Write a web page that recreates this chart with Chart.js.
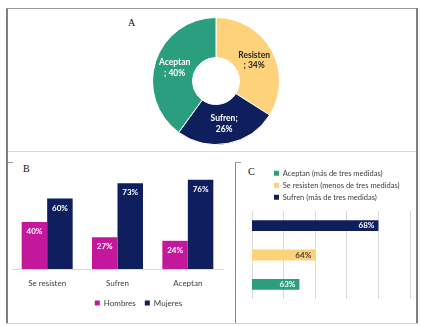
<!DOCTYPE html>
<html><head><meta charset="utf-8">
<script src="https://cdn.jsdelivr.net/npm/chart.js@4.4.1/dist/chart.umd.min.js"></script>
<style>
html,body{margin:0;padding:0;background:#fff;width:421px;height:326px;overflow:hidden;position:relative;font-family:Lato,sans-serif}
.ln{position:absolute}
canvas{position:absolute}
.letter{position:absolute;font-family:"Liberation Serif",serif;font-size:10px;color:#111;line-height:1}
</style></head><body>
<div class="ln" style="left:6px;top:8px;width:2px;height:316px;background:#7f7f7f"></div>
<div class="ln" style="left:6px;top:8px;width:412px;height:1px;background:#999"></div>
<div class="ln" style="left:416px;top:8px;width:2px;height:316px;background:#7f7f7f"></div>
<div class="ln" style="left:6px;top:323px;width:412px;height:1px;background:#d0d0d0"></div>
<div class="ln" style="left:8px;top:151px;width:408px;height:1px;background:#d9d9d9"></div>
<div class="ln" style="left:8px;top:162px;width:5px;height:1px;background:#999"></div>
<div class="ln" style="left:235px;top:162px;width:1px;height:161px;background:#8c8c8c"></div>
<div class="ln" style="left:235px;top:162px;width:6px;height:1px;background:#999"></div>
<div class="letter" style="left:128px;top:18px">A</div>
<div class="letter" style="left:23px;top:164px">B</div>
<div class="letter" style="left:248px;top:167px">C</div>
<canvas id="cA" width="128" height="128" style="left:152px;top:17px"></canvas>
<canvas id="cB" width="228" height="154" style="left:8px;top:163px"></canvas>
<canvas id="cC" width="179" height="134" style="left:237px;top:165px"></canvas>
<script>
// ---- data ----
const aCategories = ['Resisten', 'Sufren', 'Aceptan'];
const aValues = [34, 26, 40];
const aBreakAfterSemicolon = [false, true, false];

const bCategories = ['Se resisten', 'Sufren', 'Aceptan'];
const bSeries = ['Hombres', 'Mujeres'];
const bHombres = [40, 27, 24];
const bMujeres = [60, 73, 76];

const cSeries = ['Sufren (más de tres medidas)', 'Se resisten (menos de tres medidas)', 'Aceptan (más de tres medidas)'];
const cValues = [68, 64, 63];

// ---- styles ----
const TEAL = '#2A9E7E', YELLOW = '#FDD27A', NAVY = '#0F1F5E', MAGENTA = '#C4189C';
const TXT = '#404040';

const valueLabels = {
  id: 'valueLabels',
  afterDatasetsDraw(chart, args, o) {
    if (!o || !o.mode) return;
    const ctx = chart.ctx;
    ctx.save();
    ctx.font = `bold ${o.size}px Lato`;
    ctx.textBaseline = 'middle';
    chart.data.datasets.forEach((ds, di) => {
      const meta = chart.getDatasetMeta(di);
      meta.data.forEach((el, i) => {
        const lines = o.text(di, i, ds.data[i]);
        ctx.fillStyle = o.color(di, i);
        if (o.mode === 'arc') {
          const p = el.tooltipPosition();
          ctx.textAlign = 'center';
          const lh = o.lineHeight;
          lines.forEach((t, k) => ctx.fillText(t, p.x, p.y + (k - (lines.length - 1) / 2) * lh));
        } else if (o.mode === 'top') {
          ctx.textAlign = 'center';
          ctx.fillText(lines[0], el.x, el.y + o.offset);
        } else if (o.mode === 'end') {
          ctx.textAlign = 'right';
          ctx.fillText(lines[0], el.x - o.offset, el.y);
        }
      });
    });
    ctx.restore();
  }
};
const legendShift = {
  id: 'legendShift',
  afterLayout(chart, args, o) {
    const l = chart.legend;
    if (!l || !o || !o.dx) return;
    l.left += o.dx; l.right += o.dx;
  }
};

// ---- A: doughnut ----
new Chart(document.getElementById('cA'), {
  type: 'doughnut',
  data: { labels: aCategories, datasets: [{ data: aValues, backgroundColor: [YELLOW, NAVY, TEAL], borderColor: '#fff', borderWidth: 1, hoverOffset: 0 }] },
  options: {
    responsive: false, animation: false, cutout: '37%',
    plugins: {
      legend: { display: false }, tooltip: { enabled: false },
      valueLabels: {
        mode: 'arc', size: 8.5, lineHeight: 10.5,
        text: (di, i, v) => aBreakAfterSemicolon[i] ? [aCategories[i] + ';', v + '%'] : [aCategories[i], '; ' + v + '%'],
        color: (di, i) => i === 0 ? '#262626' : '#ffffff'
      }
    }
  },
  plugins: [valueLabels]
});

// ---- B: grouped bars ----
new Chart(document.getElementById('cB'), {
  type: 'bar',
  data: {
    labels: bCategories,
    datasets: [
      { label: bSeries[0], data: bHombres, backgroundColor: MAGENTA },
      { label: bSeries[1], data: bMujeres, backgroundColor: NAVY }
    ]
  },
  options: {
    responsive: false, animation: false,
    layout: { padding: { left: 4, right: 13, top: 12, bottom: 0 } },
    datasets: { bar: { categoryPercentage: 0.725, barPercentage: 1 } },
    scales: {
      x: {
        grid: { display: false }, border: { color: '#d9d9d9' },
        ticks: { color: TXT, font: { family: 'Lato', size: 8 }, padding: 2 },
        afterFit(s) { s.height = 21; }
      },
      y: { display: false, min: 0, max: 80 }
    },
    plugins: {
      legend: { position: 'bottom', labels: { boxWidth: 5, boxHeight: 5, padding: 9, color: TXT, font: { family: 'Lato', size: 8 } } },
      tooltip: { enabled: false },
      legendShift: { dx: 21 },
      valueLabels: { mode: 'top', size: 8, offset: 9.5, text: (di, i, v) => [v + '%'], color: () => '#ffffff' }
    }
  },
  plugins: [valueLabels, legendShift]
});

// ---- C: horizontal bars ----
const cColors = [NAVY, YELLOW, TEAL];
new Chart(document.getElementById('cC'), {
  type: 'bar',
  data: { labels: [''], datasets: cSeries.map((s, i) => ({ label: s, data: [cValues[i]], backgroundColor: cColors[i] })) },
  options: {
    indexAxis: 'y', responsive: false, animation: false,
    layout: { padding: { left: 15, right: 6, top: 0, bottom: 0 } },
    datasets: { bar: { categoryPercentage: 1, barPercentage: 0.37 } },
    scales: {
      x: { min: 60, max: 70, beginAtZero: false, ticks: { display: false, stepSize: 2 }, grid: { color: '#d9d9d9', drawTicks: false }, border: { display: false } },
      y: { display: false }
    },
    plugins: {
      legend: { position: 'top', align: 'start', reverse: true, labels: { boxWidth: 5, boxHeight: 5, padding: 4.5, color: TXT, font: { family: 'Lato', size: 7.5 } } },
      tooltip: { enabled: false },
      legendShift: { dx: 17.5 },
      valueLabels: { mode: 'end', size: 8, offset: 4, text: (di, i, v) => [v + '%'], color: (di) => di === 1 ? '#404040' : '#ffffff' }
    }
  },
  plugins: [valueLabels, legendShift]
});
</script>
</body></html>
